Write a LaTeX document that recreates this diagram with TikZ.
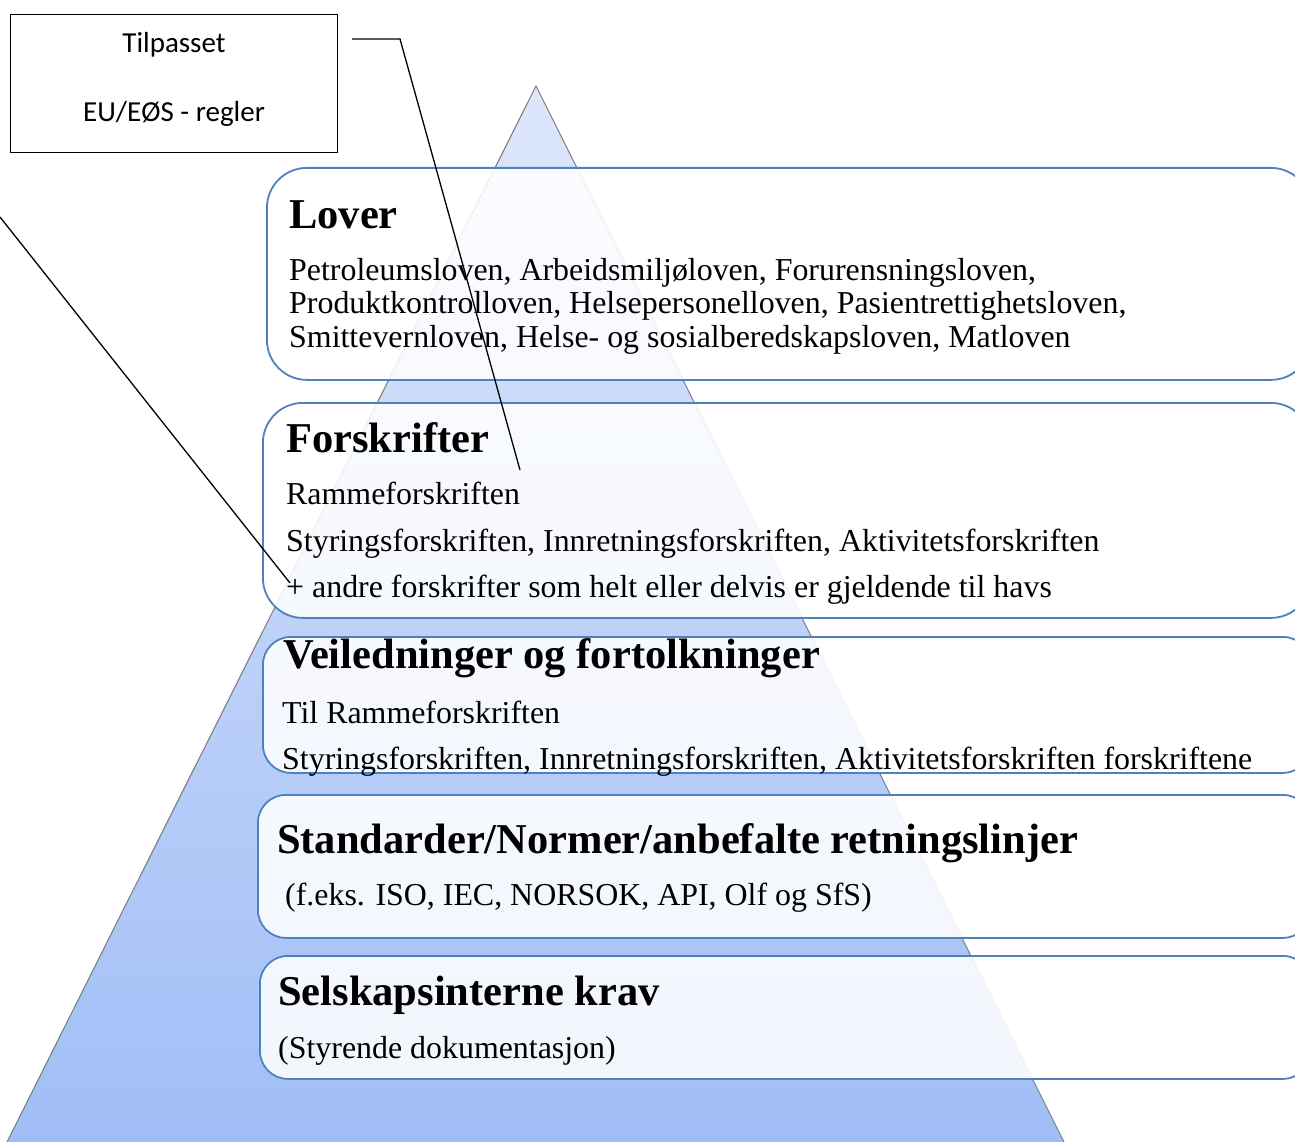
\documentclass[tikz,border=0pt]{standalone}
\usepackage{fontspec}
\setmainfont{Liberation Serif}
\newfontfamily\labelsans{Carlito}
\definecolor{panelblue}{HTML}{4F81BD}
\definecolor{pyrtop}{HTML}{DDE7FB}
\definecolor{pyrbottom}{HTML}{A0BEF6}
\definecolor{pyredge}{HTML}{7F7F7F}
\begin{document}
\begin{tikzpicture}[x=1pt,y=-1pt,
  panel/.style={draw=panelblue, line width=1.8pt, fill=white, fill opacity=0.87,
    rounded corners=#1, anchor=north west, inner sep=0pt},
  panel/.default=40pt,
  head/.style={anchor=base west, inner sep=0pt, font=\fontsize{42.5}{46}\selectfont\bfseries},
  body/.style={anchor=base west, inner sep=0pt, font=\fontsize{31.9}{33}\selectfont},
  tag/.style={anchor=base, inner sep=0pt, font=\labelsans\fontsize{29}{32}\selectfont},
  leader/.style={draw=black, line width=1.3pt}]
\useasboundingbox (0,0) rectangle (1295,1142);
\clip (0,0) rectangle (1295,1142);

% pyramid in the background
\shade[top color=pyrtop, bottom color=pyrbottom] (536,86) -- (7,1142) -- (1064,1142) -- cycle;
\draw[pyredge, line width=1.1pt] (7,1142) -- (536,86) -- (1064,1142);

% tiers of the hierarchy
\node[panel, minimum width=1044pt, minimum height=212pt] (lover) at (266,167) {};
\node[panel, minimum width=1048pt, minimum height=215pt] (forskr) at (262,402) {};
\node[panel=28pt, minimum width=1048pt, minimum height=136pt] (veil) at (262,636) {};
\node[panel=28pt, minimum width=1053pt, minimum height=143pt] (std) at (257,794) {};
\node[panel=28pt, minimum width=1051pt, minimum height=123pt] (selsk) at (259,955) {};

% Lover
\node[head] (loverH) at (289,228) {Lover};
\node[body] (loverA) at (289,280) {Petroleumsloven, Arbeidsmiljøloven, Forurensningsloven,};
\node[body] (loverB) at (289,313) {Produktkontrolloven, Helsepersonelloven, Pasientrettighetsloven,};
\node[body] (loverC) at (289,347) {Smittevernloven, Helse- og sosialberedskapsloven, Matloven};

% Forskrifter
\node[head] (forskrH) at (286,452) {Forskrifter};
\node[body] (forskrA) at (286,504) {Rammeforskriften};
\node[body] (forskrB) at (286,551) {Styringsforskriften, Innretningsforskriften, Aktivitetsforskriften};
\node[body] (forskrC) at (286,597) {+ andre forskrifter som helt eller delvis er gjeldende til havs};

% Veiledninger
\node[head] (veilH) at (283,668) {Veiledninger og fortolkninger};
\node[body] (veilA) at (282,723) {Til Rammeforskriften};
\node[body] (veilB) at (282,769) {Styringsforskriften, Innretningsforskriften, Aktivitetsforskriften forskriftene};

% Standarder
\node[head] (stdH) at (277,853) {Standarder/Normer/anbefalte retningslinjer};
\node[body] (stdA) at (285,905) {(f.eks. ISO, IEC, NORSOK, API, Olf og SfS)};

% Selskapsinterne krav
\node[head] (selskH) at (278,1005) {Selskapsinterne krav};
\node[body] (selskA) at (278,1058) {(Styrende dokumentasjon)};

% EU/EOS callout
\node[draw=black, line width=1.3pt, minimum width=327pt, minimum height=138pt,
  anchor=north west, inner sep=0pt] (eu) at (10,14) {};
\node[tag] (euA) at (174,53) {Tilpasset};
\node[tag] (euB) at (174,122) {EU/EØS - regler};

% leader lines
\coordinate (leadA0) at (352,39);
\coordinate (leadA1) at (400,39);
\coordinate (leadA2) at (520,470);
\coordinate (leadB0) at (0,217);
\coordinate (leadB1) at (290,583);
\draw[leader] (leadA0) -- (leadA1) -- (leadA2);
\draw[leader] (leadB0) -- (leadB1);
\end{tikzpicture}
\end{document}
